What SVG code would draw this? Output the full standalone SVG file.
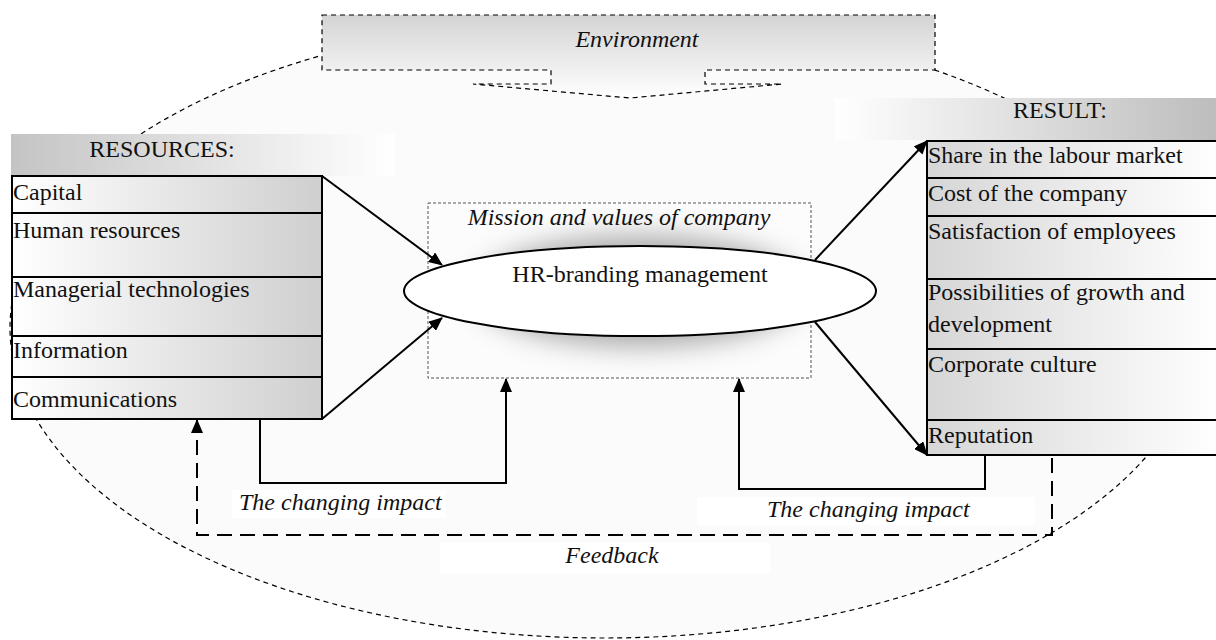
<svg xmlns="http://www.w3.org/2000/svg" width="1216" height="640" viewBox="0 0 1216 640">
<style>
text{font-family:"Liberation Serif","Times New Roman",serif;font-size:24px;fill:#111}
.it{font-style:italic}
.mid{text-anchor:middle}
.box{stroke:#000;stroke-width:2}
.conn{fill:none;stroke:#000;stroke-width:2}
</style>
<defs>
<linearGradient id="gRes" x1="0" y1="0" x2="1" y2="0"><stop offset="0" stop-color="#ffffff"/><stop offset="1" stop-color="#cfcfcf"/></linearGradient>
<linearGradient id="gResult" x1="0" y1="0" x2="1" y2="0"><stop offset="0" stop-color="#d6d6d6"/><stop offset="1" stop-color="#ffffff"/></linearGradient>
<linearGradient id="gHeadL" x1="0" y1="0" x2="1" y2="0"><stop offset="0" stop-color="#c4c4c4"/><stop offset="1" stop-color="#ffffff"/></linearGradient>
<linearGradient id="gHeadR" x1="0" y1="0" x2="1" y2="0"><stop offset="0" stop-color="#ffffff"/><stop offset="1" stop-color="#bdbdbd"/></linearGradient>
<linearGradient id="gEnv" x1="0" y1="0" x2="0" y2="1"><stop offset="0" stop-color="#d4d4d4"/><stop offset="1" stop-color="#ffffff"/></linearGradient>
<filter id="blur" x="-50%" y="-50%" width="200%" height="200%"><feGaussianBlur stdDeviation="14"/></filter>
<marker id="arr" markerUnits="userSpaceOnUse" markerWidth="14" markerHeight="12" refX="13" refY="6" orient="auto"><path d="M0,0 L14,6 L0,12 z" fill="#000"/></marker>
</defs>
<rect width="1216" height="640" fill="#fff"/>
<g id="environment-boundary">
<ellipse cx="605" cy="328" rx="595" ry="310" fill="#fbfbfb" stroke="#000" stroke-width="1.2" stroke-dasharray="5,4"/>
</g>
<g id="environment">
<path d="M322,15 H935 V70 H705 V84 H782 L630,98 L473,84 H551 V70 H322 Z" fill="url(#gEnv)" stroke="#000" stroke-width="1.2" stroke-dasharray="5,4"/>
<text class="it mid" x="637" y="47">Environment</text>
</g>
<g id="resources">
<rect x="11" y="134" width="384" height="42" fill="url(#gHeadL)"/>
<text class="mid" x="162" y="157">RESOURCES:</text>
<rect class="box" x="12" y="176" width="310" height="37" fill="url(#gRes)"/>
<rect class="box" x="12" y="213" width="310" height="64" fill="url(#gRes)"/>
<rect class="box" x="12" y="277" width="310" height="59" fill="url(#gRes)"/>
<rect class="box" x="12" y="336" width="310" height="41" fill="url(#gRes)"/>
<rect class="box" x="12" y="377" width="310" height="42" fill="url(#gRes)"/>
<text x="13" y="200">Capital</text>
<text x="13" y="238">Human resources</text>
<text x="13" y="297">Managerial technologies</text>
<text x="13" y="358">Information</text>
<text x="13" y="407">Communications</text>
</g>
<g id="result">
<rect x="835" y="98" width="381" height="42" fill="url(#gHeadR)"/>
<text class="mid" x="1060" y="118">RESULT:</text>
<rect class="box" x="927" y="141" width="295" height="37" fill="url(#gResult)"/>
<rect class="box" x="927" y="178" width="295" height="38" fill="url(#gResult)"/>
<rect class="box" x="927" y="216" width="295" height="63" fill="url(#gResult)"/>
<rect class="box" x="927" y="279" width="295" height="70" fill="url(#gResult)"/>
<rect class="box" x="927" y="349" width="295" height="71" fill="url(#gResult)"/>
<rect class="box" x="927" y="420" width="295" height="35" fill="url(#gResult)"/>
<text x="928" y="163">Share in the labour market</text>
<text x="928" y="201">Cost of the company</text>
<text x="928" y="239">Satisfaction of employees</text>
<text x="928" y="300">Possibilities of growth and</text>
<text x="928" y="332">development</text>
<text x="928" y="372">Corporate culture</text>
<text x="928" y="443">Reputation</text>
</g>
<g id="mission">
<rect x="428" y="203" width="383" height="175" fill="#fcfcfc" stroke="#555" stroke-width="1" stroke-dasharray="3,2"/>
<ellipse cx="640" cy="291" rx="165" ry="55" fill="#8a8a8a" opacity="0.75" filter="url(#blur)"/>
<text class="it mid" x="619" y="225">Mission and values of company</text>
</g>
<g id="hr-branding">
<ellipse cx="640" cy="291" rx="236" ry="45" fill="#fff" stroke="#000" stroke-width="2"/>
<text class="mid" x="640" y="282">HR-branding management</text>
</g>
<g id="connectors">
<line class="conn" x1="322" y1="176" x2="442" y2="265" marker-end="url(#arr)"/>
<line class="conn" x1="322" y1="419" x2="442" y2="318" marker-end="url(#arr)"/>
<line class="conn" x1="815" y1="260" x2="927" y2="141" marker-end="url(#arr)"/>
<line class="conn" x1="815" y1="322" x2="927" y2="455" marker-end="url(#arr)"/>
<path class="conn" d="M260,419 V483 H506 V379" marker-end="url(#arr)"/>
<path class="conn" d="M985,455 V489 H739 V379" marker-end="url(#arr)"/>
<path class="conn" d="M1052,458 V535 H197 V420" stroke-dasharray="15,8" marker-end="url(#arr)"/>
</g>
<g id="labels">
<rect x="232" y="490" width="214" height="28" fill="#fff"/>
<text class="it" x="239" y="510">The changing impact</text>
<rect x="697" y="497" width="338" height="28" fill="#fff"/>
<text class="it" x="767" y="517">The changing impact</text>
<rect x="440" y="543" width="330" height="30" fill="#fff"/>
<text class="it mid" x="612" y="563">Feedback</text>
</g>
</svg>
